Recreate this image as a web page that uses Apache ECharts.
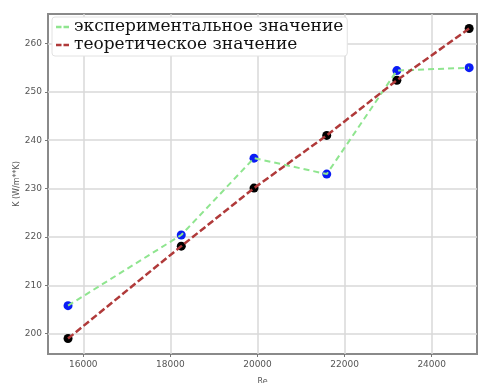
<!DOCTYPE html>
<html>
<head>
<meta charset="utf-8">
<script src="https://cdn.jsdelivr.net/npm/echarts@6/dist/echarts.min.js"></script>
<style>
  html, body { margin: 0; padding: 0; background: #fff; }
  #chart { width: 478px; height: 383px; }
</style>
</head>
<body>
<div id="chart"></div>
<script>
// Reynolds numbers of the measured runs
const reValues = [15650, 18250, 19920, 21590, 23200, 24860];
// heat transfer coefficient, measured
const kExperimental = [205.8, 220.4, 236.3, 233.0, 254.4, 255.0];
// heat transfer coefficient, calculated
const kTheoretical = [199.0, 218.1, 230.1, 241.0, 252.4, 263.1];
// axis tick positions
const xTicks = [16000, 18000, 20000, 22000, 24000];
const yTicks = [200, 210, 220, 230, 240, 250, 260];

const nameExp = 'экспериментальное значение';
const nameTheo = 'теоретическое значение';

const pairs = (xs, ys) => xs.map((x, i) => [x, ys[i]]);

const tickFont = { fontFamily: 'DejaVu Sans', fontSize: 9, color: '#555' };
// two short dashes, used as the legend key of a dashed line
const dashIcon = 'path://M0,0h5.5v2.5h-5.5z M7.5,0h5.5v2.5h-5.5z';

const chart = echarts.init(document.getElementById('chart'), null, { renderer: 'canvas' });
chart.setOption({
  animation: false,
  backgroundColor: '#fff',
  grid: {
    left: 48, top: 14, right: 1, bottom: 29,
    outerBoundsMode: 'none', containLabel: false,
    show: true, borderColor: '#8a8a8a', borderWidth: 2, backgroundColor: 'transparent'
  },
  legend: {
    left: 52, top: 17,
    orient: 'vertical',
    itemWidth: 13, itemHeight: 2.5, itemGap: 0,
    padding: [1, 4, 2, 4],
    backgroundColor: '#fff',
    borderColor: '#e2e2e2', borderWidth: 1, borderRadius: 3,
    textStyle: { fontFamily: 'DejaVu Serif', fontSize: 17, color: '#111', lineHeight: 18, padding: [0, 0, 0, 0] },
    data: [
      { name: nameExp, icon: dashIcon, itemStyle: { color: '#8fe58f' } },
      { name: nameTheo, icon: dashIcon, itemStyle: { color: '#b03a3a' } }
    ]
  },
  xAxis: {
    type: 'value', min: 15190, max: 25040,
    name: 'Re', nameLocation: 'middle', nameGap: 24, nameMoveOverlap: false,
    nameTextStyle: { fontFamily: 'DejaVu Sans', fontSize: 8, color: '#555' },
    axisLine: { show: false },
    axisTick: { show: true, length: 3, customValues: xTicks, lineStyle: { color: '#777' } },
    axisLabel: Object.assign({ customValues: xTicks, margin: 6, formatter: v => String(v) }, tickFont),
    splitLine: { show: true, lineStyle: { color: '#d8d8d8', width: 1.5 } }
  },
  yAxis: {
    type: 'value', min: 195.8, max: 266.1,
    name: 'K (W/m**K)', nameLocation: 'middle', nameGap: 27, nameRotate: 90, nameMoveOverlap: false,
    nameTextStyle: { fontFamily: 'DejaVu Sans', fontSize: 8, color: '#555' },
    axisLine: { show: false },
    axisTick: { show: true, length: 3, customValues: yTicks, lineStyle: { color: '#777' } },
    axisLabel: Object.assign({ customValues: yTicks, margin: 6, formatter: v => String(v) }, tickFont),
    splitLine: { show: true, lineStyle: { color: '#d8d8d8', width: 1.5 } }
  },
  series: [
    {
      name: 'exp-points', type: 'scatter', z: 2,
      data: pairs(reValues, kExperimental),
      symbolSize: 9, itemStyle: { color: '#0a1cf5', opacity: 1 }
    },
    {
      name: 'theo-points', type: 'scatter', z: 2,
      data: pairs(reValues, kTheoretical),
      symbolSize: 9, itemStyle: { color: '#000', opacity: 1 }
    },
    {
      name: nameExp, type: 'line', z: 3,
      data: pairs(reValues, kExperimental),
      showSymbol: false, symbol: 'none',
      itemStyle: { color: '#8fe58f' },
      lineStyle: { color: '#8fe58f', width: 2, type: [6, 4] }
    },
    {
      name: nameTheo, type: 'line', z: 3,
      data: pairs(reValues, kTheoretical),
      showSymbol: false, symbol: 'none',
      itemStyle: { color: '#b03a3a' },
      lineStyle: { color: '#b03a3a', width: 2.5, type: [7, 3] }
    }
  ]
});
</script>
</body>
</html>
